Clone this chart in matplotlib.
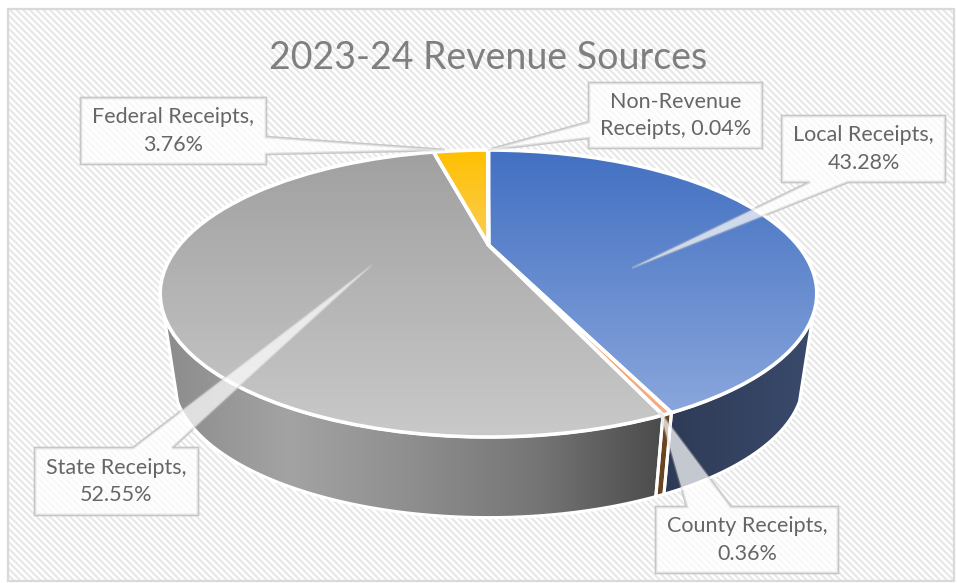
import numpy as np
import matplotlib
matplotlib.use("Agg")
import matplotlib.pyplot as plt
from matplotlib.colors import LinearSegmentedColormap
from matplotlib.patches import Polygon, Rectangle
from matplotlib.transforms import Transform

plt.rcParams['font.family'] = ['Lato', 'DejaVu Sans']
plt.rcParams['hatch.linewidth'] = 1.5

# data
sources = ['Local Receipts', 'County Receipts', 'State Receipts',
           'Federal Receipts', 'Non-Revenue Receipts']
shares = [43.28, 0.36, 52.55, 3.76, 0.04]
title = '2023-24 Revenue Sources'

# top face gradients, top to bottom
face_colors = [('#4270c2', '#8aa6dc'), ('#ed7d31', '#f4b183'), ('#a0a0a0', '#c9c9c9'),
               ('#ffc000', '#fbcd55'), ('#4472c4', '#4472c4')]
# side wall gradients, left to right
wall_colors = [['#2e3b57', '#3a4a6b'], ['#6b4420', '#6b4420'],
               ['#8c8c8c', '#a3a3a3', '#8e8e8e', '#757575', '#4b4b4b'], None, None]


# tilts the flat pie: perspective puts the apex above the middle of the ellipse
class Tilt(Transform):
    input_dims = 2
    output_dims = 2
    is_separable = False

    def transform_non_affine(self, values):
        values = np.asarray(values)
        d = 1 + 0.338 * values[:, 1]
        return np.column_stack([488.5 + 309 * values[:, 0] / d, 245 - 127.1 * values[:, 1] / d])


def rim(theta1, theta2):
    t = np.radians(np.linspace(theta1, theta2, 120))
    return Tilt().transform_non_affine(np.column_stack([np.cos(t), np.sin(t)]))


def lower(pts):
    # bottom rim is the top rim shrunk a little and moved down
    return np.column_stack([488.5 + 0.959 * (pts[:, 0] - 488.5), 379.5 + 0.959 * (pts[:, 1] - 293)])


fig = plt.figure(figsize=(9.57, 5.83), dpi=100, facecolor='white')
ax = fig.add_axes([0, 0, 1, 1])

wedges, _ = ax.pie(shares, startangle=90, counterclock=False,
                   wedgeprops={'transform': Tilt() + ax.transData})
ax.set_aspect('auto')
ax.axis('off')

# background
ax.add_patch(Rectangle((8, 9), 946, 572, facecolor='white', edgecolor='#e7e7e7',
                       hatch='\\\\\\\\\\', linewidth=0, zorder=0))
ax.add_patch(Rectangle((8, 9), 946, 572, facecolor='none', edgecolor='#d9d9d9',
                       linewidth=1.6, zorder=0.5))

for w, cols, wall in zip(wedges, face_colors, wall_colors):
    # side wall, only the part between the two tangent lines of the cylinder
    lo, hi = max(w.theta1, -152), min(w.theta2, -28)
    if wall is not None and lo < hi:
        top = rim(lo, hi)
        poly = np.vstack([top, lower(top)[::-1]])
        p = Polygon(poly, closed=True, facecolor='none', edgecolor='white', linewidth=2.2, zorder=3)
        ax.add_patch(p)
        cmap = LinearSegmentedColormap.from_list('wall', wall)
        im = ax.imshow(np.linspace(0, 1, 256)[None, :], cmap=cmap, aspect='auto', zorder=2.5,
                       extent=(poly[:, 0].min(), poly[:, 0].max(), poly[:, 1].max(), poly[:, 1].min()))
        im.set_clip_path(p)

    # top face, gradient spans the slice's own height
    pts = rim(w.theta1, w.theta2)
    cmap = LinearSegmentedColormap.from_list('face', cols)
    im = ax.imshow(np.linspace(0, 1, 256)[:, None], cmap=cmap, aspect='auto', zorder=4,
                   extent=(160, 817, max(pts[:, 1].max(), 245), 150))
    im.set_clip_path(w)
    w.set(facecolor='none', edgecolor='white', linewidth=2.6, zorder=5, clip_on=False)

ax.set_xlim(0, 957)
ax.set_ylim(583, 0)

ax.text(488, 58, title, ha='center', va='center', fontsize=27, color='#7f7f7f', zorder=8)

# callouts: box, tail start and end on the box, tail tip
callouts = [
    ((782, 116, 945, 182), [(848, 182), (632, 268), (810, 182)], 'Local Receipts,\n43.28%'),
    ((656, 507, 838, 573), [(687, 507), (660, 412), (731, 507)], 'County Receipts,\n0.36%'),
    ((35, 448, 198, 515), [(133, 448), (372, 265), (172, 448)], 'State Receipts,\n52.55%'),
    ((81, 98, 266, 164), [(266, 137), (445, 150), (266, 154)], 'Federal Receipts,\n3.76%'),
    ((589, 83, 762, 148), [(589, 122), (488, 150), (589, 138)], 'Non-Revenue\nReceipts, 0.04%'),
]
for (x0, y0, x1, y1), tail, label in callouts:
    if tail[0][1] == y1:  # tail leaves the bottom edge
        outline = [(x0, y0), (x1, y0), (x1, y1), tail[0], tail[1], tail[2], (x0, y1)]
    elif tail[0][1] == y0:  # tail leaves the top edge
        outline = [(x0, y0), tail[0], tail[1], tail[2], (x1, y0), (x1, y1), (x0, y1)]
    elif tail[0][0] == x1:  # right edge
        outline = [(x0, y0), (x1, y0), tail[0], tail[1], tail[2], (x1, y1), (x0, y1)]
    else:  # left edge
        outline = [(x0, y0), (x1, y0), (x1, y1), (x0, y1), tail[2], tail[1], tail[0]]
    # edge under the pie, translucent fill over it
    ax.add_patch(Polygon(outline, closed=True, facecolor='none', edgecolor='#c6c6c6',
                         linewidth=1.8, zorder=1))
    ax.add_patch(Polygon(outline, closed=True, facecolor='white', edgecolor='none',
                         alpha=0.72, zorder=6))
    ax.add_patch(Polygon(outline, closed=True, facecolor='none', edgecolor='#c6c6c6',
                         linewidth=1.8, alpha=0.35, zorder=6.2))
    ax.text((x0 + x1) / 2, (y0 + y1) / 2, label, ha='center', va='center', fontsize=15.5,
            color='#666666', linespacing=1.45, zorder=8)

fig.savefig('out.png', dpi=100)
